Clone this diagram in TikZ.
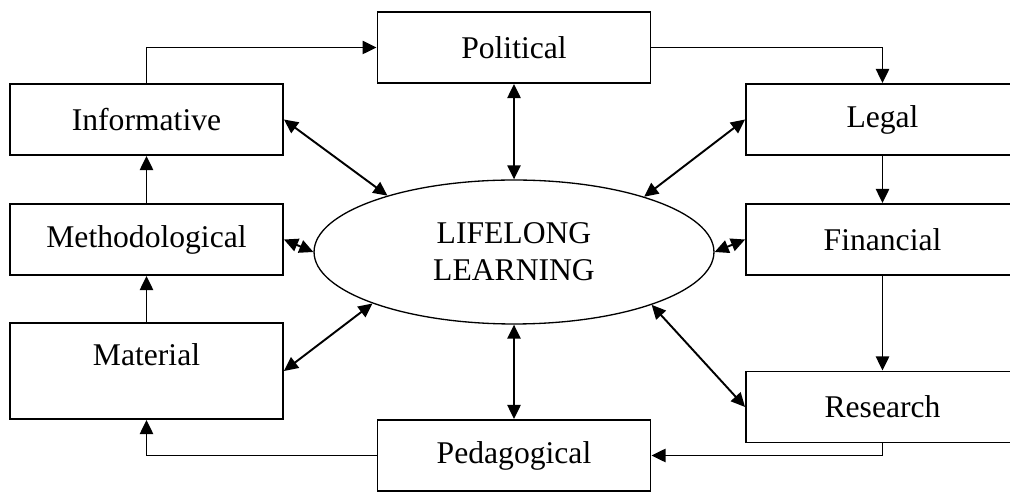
\documentclass[tikz,border=0pt]{standalone}
\usepackage{fontspec}
\setmainfont{Liberation Serif}
\usetikzlibrary{arrows.meta,shapes.geometric}

\def\boxwd{5.46cm}
\def\boxht{1.42cm}

\begin{document}
\begin{tikzpicture}[x=0.02cm,y=-0.02cm,>={Triangle[length=8pt,width=7.5pt]},line width=1.1pt]
    \tikzstyle{box} = [rectangle, draw, minimum width=\boxwd, minimum height=\boxht, inner sep=0pt, font=\fontsize{18}{21}\selectfont]
    \tikzstyle{hub} = [ellipse, draw, line width=0.75pt, minimum width=8cm, minimum height=2.88cm, inner sep=0pt, align=center, font=\fontsize{18}{21}\selectfont]
    \tikzstyle{flow} = [->]
    \tikzstyle{link} = [<->]
    \tikzstyle{annot} = [font=\fontsize{18}{21}\selectfont]

    \useasboundingbox (0,0) rectangle (1010,492);

    %%% DRAW THE NODES
    \node[box] (pol) at (514,47.5) {Political};
    \node[box] (inf) at (146.5,119.5) {Informative};
    \node[box] (meth) at (146.5,239.5) {Methodological};
    \node[box, minimum height=1.92cm] (mat) at (146.5,371) {};
    \node[annot] (mat-t) at (146.5,355) {Material};
    \node[box] (leg) at (882.5,119.5) {Legal};
    \node[box] (fin) at (882.5,239.5) {Financial};
    \node[box] (res) at (882.5,407) {Research};
    \node[box] (ped) at (514,455.5) {Pedagogical};
    \node[hub] (ll) at (514,252) {LIFELONG\\LEARNING};

    %%% DRAW THE PATHS
    \draw[flow] (inf.north) |- (pol.west);
    \draw[flow] (pol.east) -| (leg.north);
    \draw[flow] (leg.south) -- (fin.north);
    \draw[flow] (fin.south) -- (res.north);
    \draw[flow] (res.south) |- (ped.east);
    \draw[flow] (ped.west) -| (mat.south);
    \draw[flow] (mat.north) -- (meth.south);
    \draw[flow] (meth.north) -- (inf.south);

    \draw[link] (pol.south) -- (ll.north);
    \draw[link] (ped.north) -- (ll.south);
    \draw[link] (inf.east) -- (ll.156);
    \draw[link] (leg.west) -- (ll.23);
    \draw[link] (mat.east) -- (ll.200);
    \draw[link] (res.west) -- (ll.339);
    \draw[link] (meth.east) -- (ll.west);
    \draw[link] (fin.west) -- (ll.east);

\end{tikzpicture}
\end{document}
